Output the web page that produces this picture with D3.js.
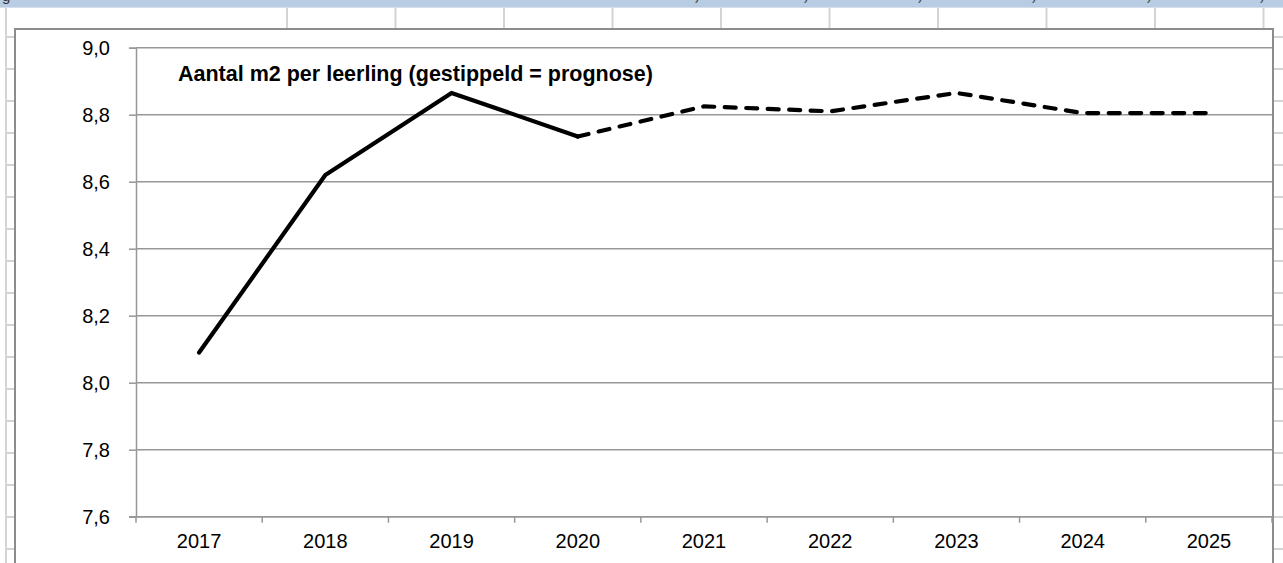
<!DOCTYPE html>
<html>
<head>
<meta charset="utf-8">
<script src="https://cdn.jsdelivr.net/npm/d3@7"></script>
<style>
  html, body { margin: 0; padding: 0; background: #fff; }
  svg { display: block; font-family: "Liberation Sans", Arial, sans-serif; }
</style>
</head>
<body>
<svg id="chart" width="1283" height="563"></svg>
<script>
// Jaren op de x-as
const years = ["2017", "2018", "2019", "2020", "2021", "2022", "2023", "2024", "2025"];
// Aantal m2 per leerling per jaar
const m2PerLeerling = [8.09, 8.62, 8.865, 8.735, 8.825, 8.81, 8.865, 8.805, 8.805];
// Vanaf dit jaar is de lijn een prognose (gestippeld)
const prognoseVanaf = "2020";
// Waarden op de y-as
const yTicks = [7.6, 7.8, 8.0, 8.2, 8.4, 8.6, 8.8, 9.0];
const title = "Aantal m2 per leerling (gestippeld = prognose)";

const W = 1283, H = 563;
const svg = d3.select("#chart");

// ---- werkblad-achtergrond rond de grafiek ----
const sheet = svg.append("g");
sheet.append("rect").attr("x", 0).attr("y", 0).attr("width", W).attr("height", 7).attr("fill", "#b8cce4");
// afgesneden tekst in de kopregel
sheet.append("text").attr("x", 2).attr("y", 1).attr("font-size", 15).attr("fill", "#333").text("g");
[695, 804, 918, 1032, 1147, 1260].forEach(x => {
  sheet.append("text").attr("x", x).attr("y", 0).attr("font-size", 15).attr("fill", "#444").text(")");
});
sheet.append("rect").attr("x", 0).attr("y", 7).attr("width", W).attr("height", 1).attr("fill", "#d6dee9");
const colX = [6, 287, 395.5, 504, 612.5, 721, 829.5, 938, 1046.5, 1155, 1263.5];
colX.forEach((x, i) => {
  sheet.append("line").attr("x1", x).attr("x2", x).attr("y1", 8).attr("y2", i === 0 ? H : 29)
    .attr("stroke", "#d4d4d4").attr("stroke-width", 2);
});
for (let y = 37; y < H; y += 32) {
  sheet.append("line").attr("x1", 7).attr("x2", 15).attr("y1", y).attr("y2", y).attr("stroke", "#d4d4d4").attr("stroke-width", 2);
  sheet.append("line").attr("x1", 1274).attr("x2", W).attr("y1", y).attr("y2", y).attr("stroke", "#d4d4d4").attr("stroke-width", 2);
}

// ---- grafiekvlak ----
svg.append("rect").attr("x", 15).attr("y", 29).attr("width", 1258).attr("height", 620)
  .attr("fill", "#fff").attr("stroke", "#8c8c8c").attr("stroke-width", 2);

const x = d3.scaleBand().domain(years).range([136, 1272]);
const y = d3.scaleLinear().domain([7.6, 9.0]).range([516.7, 47.7]);
const fmt = v => d3.format(".1f")(v).replace(".", ",");

// horizontale rasterlijnen
svg.append("g").selectAll("line").data(yTicks).join("line")
  .attr("x1", 136).attr("x2", 1272)
  .attr("y1", d => y(d)).attr("y2", d => y(d))
  .attr("stroke", "#979797").attr("stroke-width", 1.5);

// y-as
const yAxis = svg.append("g").attr("transform", "translate(136,0)")
  .call(d3.axisLeft(y).tickValues(yTicks).tickFormat(fmt).tickSize(7).tickPadding(19));
yAxis.select(".domain").attr("stroke", "#979797").attr("stroke-width", 1.5);
yAxis.selectAll(".tick line").attr("stroke", "#979797").attr("stroke-width", 1.5);
yAxis.selectAll("text").attr("font-size", 20).attr("fill", "#000").attr("font-family", "Liberation Sans, Arial, sans-serif");

// x-as: streepjes tussen de jaren, labels in het midden
const xAxis = svg.append("g").attr("transform", `translate(0,${y(7.6)})`)
  .call(d3.axisBottom(x).tickSize(0).tickPadding(17));
xAxis.select(".domain").remove();
xAxis.selectAll("text").attr("font-size", 20).attr("fill", "#000").attr("font-family", "Liberation Sans, Arial, sans-serif");
const bounds = years.map(d => x(d)).concat([x.range()[1]]);
svg.append("g").selectAll("line").data(bounds).join("line")
  .attr("x1", d => d).attr("x2", d => d)
  .attr("y1", y(7.6)).attr("y2", y(7.6) + 6)
  .attr("stroke", "#979797").attr("stroke-width", 1.5);
svg.append("line").attr("x1", 129).attr("x2", 1272).attr("y1", y(7.6)).attr("y2", y(7.6))
  .attr("stroke", "#979797").attr("stroke-width", 1.5);

// ---- lijn ----
const pts = years.map((yr, i) => ({ yr, v: m2PerLeerling[i] }));
const split = years.indexOf(prognoseVanaf);
const line = d3.line().x(d => x(d.yr) + x.bandwidth() / 2).y(d => y(d.v));

svg.append("path").datum(pts.slice(0, split + 1))
  .attr("d", line).attr("fill", "none").attr("stroke", "#000")
  .attr("stroke-width", 4.2).attr("stroke-linejoin", "round").attr("stroke-linecap", "round");
svg.append("path").datum(pts.slice(split))
  .attr("d", line).attr("fill", "none").attr("stroke", "#000")
  .attr("stroke-width", 4.2).attr("stroke-linecap", "round").attr("stroke-dasharray", "11,10.5");

// titel
svg.append("text").attr("x", 178).attr("y", 81)
  .attr("font-size", 21.5).attr("font-weight", "bold").attr("fill", "#000")
  .text(title);
</script>
</body>
</html>
